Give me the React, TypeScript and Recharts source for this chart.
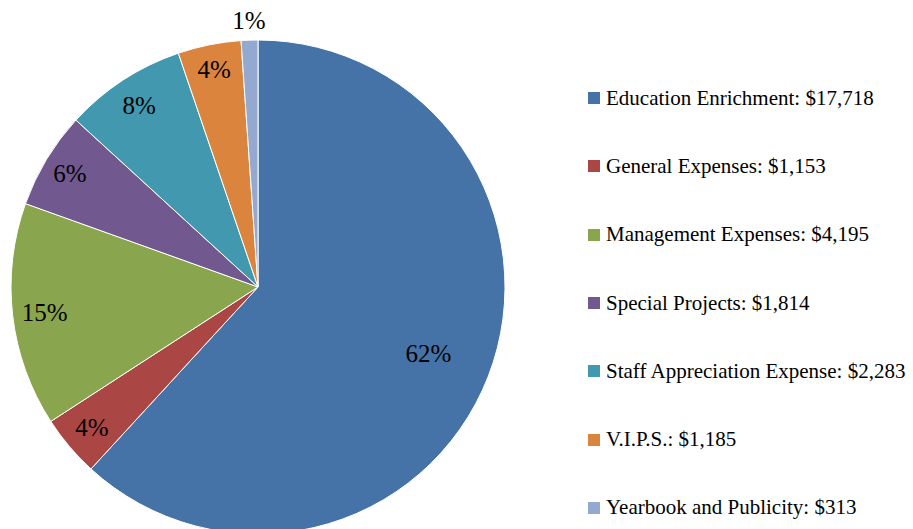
import { PieChart, Pie, Cell, Legend } from "recharts";

const categories = [
  "Education Enrichment",
  "General Expenses",
  "Management Expenses",
  "Special Projects",
  "Staff Appreciation Expense",
  "V.I.P.S.",
  "Yearbook and Publicity",
];

const amounts = [17718, 1153, 4195, 1814, 2283, 1185, 313];

const COLORS = ["#4572A7", "#AA4643", "#89A54E", "#71588F", "#4198AF", "#DB843D", "#93A9CF"];

// how far out each percent label sits, as a share of the radius
const LABEL_RADII = [0.74, 0.88, 0.87, 0.89, 0.88, 0.9, 1.08];

const data = categories.map((name, i) => ({ name, value: amounts[i] }));
const total = amounts.reduce((a, b) => a + b, 0);

const FONT = "Liberation Serif, DejaVu Serif, serif";
const RAD = Math.PI / 180;

const renderLabel = (props: any) => {
  const { cx, cy, midAngle, outerRadius, index, value } = props;
  const r = outerRadius * LABEL_RADII[index];
  const x = cx + r * Math.cos(-midAngle * RAD);
  const y = cy + r * Math.sin(-midAngle * RAD);
  return (
    <g style={{ fontFamily: FONT }}>
      <text
        x={x}
        y={y}
        textAnchor="middle"
        dominantBaseline="central"
        fill="#000"
        fontFamily={FONT}
        fontSize={25}
      >
        <tspan fontFamily={FONT}>{`${Math.round((value / total) * 100)}%`}</tspan>
      </text>
    </g>
  );
};

const renderLegend = () => (
  <div style={{ fontFamily: FONT, fontSize: 21, color: "#000" }}>
    {data.map((d, i) => (
      <div key={d.name} style={{ display: "flex", alignItems: "center", height: 68.3 }}>
        <span
          style={{ width: 12, height: 12, background: COLORS[i], marginRight: 6, display: "inline-block" }}
        />
        <span>{`${d.name}: $${d.value.toLocaleString("en-US")}`}</span>
      </div>
    ))}
  </div>
);

export default function App() {
  return (
    <div style={{ position: "absolute", top: 0, left: 0, width: 913, height: 529, background: "#fff", fontFamily: FONT }}>
      <PieChart width={913} height={529} margin={{ top: 0, right: 0, bottom: 0, left: 0 }} style={{ fontFamily: FONT }}>
        <Pie
          data={data}
          dataKey="value"
          nameKey="name"
          cx={258}
          cy={287}
          outerRadius={247}
          startAngle={90}
          endAngle={-270}
          stroke="#fff"
          strokeWidth={1}
          labelLine={false}
          label={renderLabel}
          isAnimationActive={false}
        >
          {data.map((entry, index) => (
            <Cell key={`cell-${index}`} fill={COLORS[index % COLORS.length]} />
          ))}
        </Pie>
        <Legend
          layout="vertical"
          verticalAlign="top"
          align="right"
          content={renderLegend}
          wrapperStyle={{ left: 588, top: 64, width: 325 }}
        />
      </PieChart>
    </div>
  );
}
